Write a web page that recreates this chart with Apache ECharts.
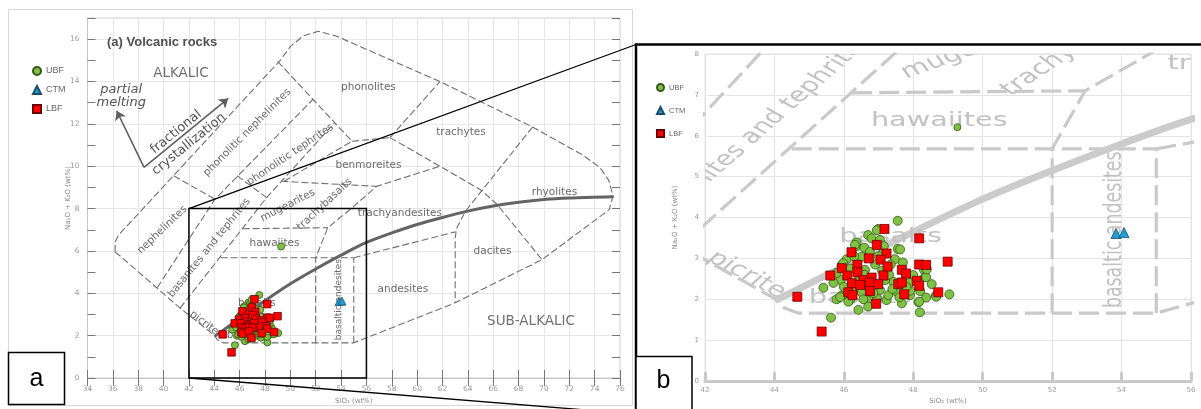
<!DOCTYPE html>
<html><head><meta charset="utf-8">
<script src="https://cdn.jsdelivr.net/npm/echarts@6/dist/echarts.min.js"></script>
<style>html,body{margin:0;padding:0;background:#fff}#c{width:1201px;height:409px}</style>
</head><body><div id="c"></div>
<script>
// ---------------- data (SiO2 wt%, Na2O+K2O wt%) ----------------
const UBF = [[47.55,3.92],[46.99,3.72],[46.70,3.57],[46.80,3.49],[47.55,3.23],[46.35,3.29],[46.59,3.26],[46.08,2.98],[46.51,3.04],[46.75,3.16],[47.47,2.98],[48.31,2.72],[48.34,2.55],[48.53,2.37],[45.41,2.28],[45.94,2.09],[46.08,2.23],[46.51,2.17],[46.66,1.98],[46.95,2.02],[47.23,1.98],[47.28,2.10],[47.52,2.18],[47.67,1.90],[47.91,2.10],[48.15,1.93],[48.37,2.04],[48.65,2.09],[49.04,2.12],[48.19,1.68],[46.42,1.74],[46.70,1.82],[45.63,1.55],[45.79,2.00],[46.18,1.98],[47.04,2.23],[46.87,2.31],[47.42,2.43],[48.00,2.59],[45.91,2.47],[45.79,2.64],[45.94,2.84],[46.27,2.18],[47.19,2.47],[46.37,3.39],[47.04,3.45],[46.61,2.72],[45.98,2.88],[47.14,3.16],[46.32,3.33],[45.89,2.05],[46.13,1.94],[46.56,2.00],[47.62,3.22],[48.37,2.54],[48.66,2.06],[48.17,1.94],[47.91,2.21],[48.39,2.73],[46.95,3.69],[46.90,2.85],[47.30,2.60],[46.40,2.45],[46.70,2.35],[47.10,2.70],[47.70,2.90],[47.90,2.40],[46.20,2.75],[47.40,2.25],[46.60,2.60],[47.80,2.30],[46.30,3.05],[47.00,3.05],[47.35,2.85],[46.00,2.30],[48.20,2.20],[47.60,2.05],[46.85,2.15],[45.70,2.40],[47.15,3.30]];
const UBF_HAWAIITE = [[49.27,6.21]];
const LBF = [[47.17,3.72],[48.17,3.49],[46.95,3.33],[46.22,3.15],[46.72,3.00],[47.23,3.12],[47.06,2.97],[48.99,2.92],[48.17,2.85],[48.37,2.84],[47.26,2.80],[46.39,2.84],[45.94,2.76],[45.61,2.58],[47.67,2.72],[47.79,2.63],[46.39,2.66],[46.10,2.58],[46.80,2.53],[47.14,2.58],[46.56,2.47],[46.23,2.39],[46.47,2.35],[46.75,2.41],[46.99,2.37],[47.57,2.37],[47.67,2.41],[48.10,2.45],[48.17,2.33],[46.13,2.17],[46.25,2.10],[46.75,2.20],[47.74,2.12],[48.72,2.17],[46.93,1.89],[44.66,2.06],[45.36,1.21]];
const CTM = [[53.84,3.61],[54.07,3.63]];

// ---------------- TAS field boundaries (Cox et al. 1979), data units ----------------
const outerBoundary = [[36.17,5.95],[36.2,6.45],[36.45,6.75],[49.2,15.0],[50.0,15.65],[51.0,16.15],[52.2,16.37],[53.6,16.15],[61.8,14.0],[69.1,11.85],[73.0,10.55],[74.4,9.95],[75.1,9.35],[75.45,8.6],[75.15,7.95],[69.85,5.59],[63.0,3.55],[55.0,1.66],[44.7,1.66],[44.25,1.8],[44.0,2.02],[41.3,3.3],[36.6,5.75],[36.17,5.95]];
const bandLeft = [[39.5,4.27],[44.05,8.44],[51.8,13.17]];
const bandRight = [[41.3,3.3],[48.13,8.52],[53.5,12.06]];
const nephTop = [[40.8,9.55],[44.05,8.44]];
const basTop = [[45.8,9.55],[48.13,8.52]];
const phonNephTop = [[49.0,14.95],[54.86,11.18]];
const benmoreiteLeft = [[49.5,9.29],[54.86,11.18]];
const phonoliteBottom = [[54.86,11.18],[57.86,11.35]];
const phonoliteRight = [[57.86,11.35],[61.8,14.0]];
const trachyteBottom = [[57.86,11.35],[61.8,10.0],[65.1,8.85],[66.3,8.2],[69.85,5.59]];
const rhyoliteLeft = [[69.1,11.85],[63.8,7.87],[63.1,7.05],[63.0,6.6],[63.0,3.55]];
const andesiteTop = [[55.0,5.68],[63.0,6.9]];
const hawaiiteBottom = [[44.5,5.68],[55.0,5.68]];
const hawaiiteTop = [[46.24,7.05],[52.95,7.1]];
const mugeariteTop = [[49.3,9.29],[56.8,9.05]];
const trachyandesiteLeft = [[52.0,1.66],[52.0,5.68],[52.95,7.1],[54.74,7.97],[56.8,9.05],[61.8,10.0]];
const basAndesiteRight = [[55.0,1.66],[55.0,5.68]];
const alkalicLine = [[44.1,2.0],[46,2.8],[48,3.65],[50,4.45],[52,5.15],[54,5.8],[56,6.4],[58,6.85],[60,7.25],[62,7.58],[64,7.88],[66,8.12],[68,8.3],[70,8.43],[72,8.5],[75.4,8.56]];
const processArrows = [[[38.46,9.95],[36.3,12.62]],[[38.46,9.95],[45.1,13.2]]];

// field names: text, SiO2, alkalis, angle (deg, in panel a)
const fieldLabels = [
  ['nephelinites',39.9,7.0,44],['basanites and tephrites',43.6,6.15,51],
  ['phonolitic nephelinites',46.6,11.6,45],['phonolitic tephrites',50.0,10.55,34],
  ['phonolites',56.16,13.74,0],['trachytes',63.46,11.61,0],['benmoreites',56.16,10.05,0],
  ['mugearites',49.8,8.15,27],['trachybasalts',52.7,8.2,43],['hawaiites',48.75,6.37,0],
  ['trachyandesites',58.64,7.77,0],['rhyolites',70.83,8.77,0],['dacites',65.94,5.97,0],
  ['andesites',58.88,4.17,0],['basalts',47.35,3.53,0],
  ['picrite',43.2,2.6,-37],['basalts',46.47,2.03,0]
];
const verticalLabels = [['basaltic andesites',53.8,3.7,90]];
const seriesLabels = [['ALKALIC',41.37,14.36,0],['SUB-ALKALIC',68.98,2.65,0]];
const meltingLabels = [['partial\nmelting',36.66,13.33,0]];
const crystalLabels = [['fractional',40.98,11.61,39],['crystallization',42.0,11.04,39]];

const xRangeA=[34,76], yRangeA=[0,17], xRangeB=[42,56], yRangeB=[0,8];
const legendNames=['UBF','CTM','LBF'];

// ---------------- layout ----------------
const GA={left:87.5,top:18,width:532.5,height:360};
const GB={left:705,top:54,width:486,height:327};
const kxA=GA.width/(xRangeA[1]-xRangeA[0]), kyA=GA.height/(yRangeA[1]-yRangeA[0]);
const kxB=GB.width/(xRangeB[1]-xRangeB[0]), kyB=GB.height/(yRangeB[1]-yRangeB[0]);
const SX=kxB/kxA, SY=kyB/kyA;

const chart = echarts.init(document.getElementById('c'),null,{renderer:'canvas'});

const boundaryList=[outerBoundary,bandLeft,bandRight,nephTop,basTop,phonNephTop,benmoreiteLeft,phonoliteBottom,phonoliteRight,trachyteBottom,rhyoliteLeft,andesiteTop,hawaiiteBottom,hawaiiteTop,mugeariteTop,trachyandesiteLeft,basAndesiteRight];

function boundarySeries(g){
  const a = g===0;
  const out = boundaryList.map(b=>({
    type:'line', xAxisIndex:g, yAxisIndex:g, data:b, showSymbol:false, symbol:'none', silent:true, z:1,
    animation:false, clip:true,
    lineStyle:{color:a?'#6f6f6f':'#c9c9c9', width:a?1.1:3.2, type:a?[7,3]:[20,7]}
  }));
  out.push({type:'line', xAxisIndex:g, yAxisIndex:g, data:alkalicLine, showSymbol:false, symbol:'none', silent:true, z:1, smooth:0.3, clip:true,
    lineStyle:{color:a?'#646464':'#cbcbcb', width:a?3:7, type:'solid', cap:'round'}});
  return out;
}

function labelSeries(list,g,font,clip){
  const sx = g===0?1:SX, sy = g===0?1:SY;
  return {type:'custom', xAxisIndex:g, yAxisIndex:g, clip:clip, silent:true, z:2,
    data:list.map((l,i)=>[l[1],l[2],i]),
    renderItem:(params,api)=>{
      const l=list[api.value(2)];
      const p=api.coord([api.value(0),api.value(1)]);
      return {type:'group', x:p[0], y:p[1], scaleX:sx, scaleY:sy, children:[
        {type:'text', rotation:l[3]*Math.PI/180, style:Object.assign({text:l[0], align:'center', verticalAlign:'middle'},font)}]};
    }};
}

const fieldFontA={fontSize:10.5, fontFamily:'DejaVu Sans', fill:'#6a6a6a'};
const fieldFontB={fontSize:10.5, fontFamily:'DejaVu Sans', fill:'#c2c2c2'};
const vertFontA={fontSize:9, fontFamily:'DejaVu Sans', fill:'#6a6a6a'};
const vertFontB={fontSize:9, fontFamily:'DejaVu Sans', fill:'#c2c2c2'};

function pointSeries(g){
  const a=g===0;
  return [
    {type:'scatter', name:'UBF', xAxisIndex:g, yAxisIndex:g, data:UBF, symbol:'circle', symbolSize:a?7:9, z:5,
      itemStyle:{color:'#7dc243', borderColor:'#35561c', borderWidth:0.8, opacity:1}},
    {type:'scatter', name:'UBF', xAxisIndex:g, yAxisIndex:g, data:UBF_HAWAIITE, symbol:'circle', symbolSize:7, z:5,
      itemStyle:{color:'#7dc243', borderColor:'#35561c', borderWidth:0.8, opacity:1}},
    {type:'scatter', name:'LBF', xAxisIndex:g, yAxisIndex:g, data:LBF, symbol:'rect', symbolSize:a?7.5:9, z:6,
      itemStyle:{color:'#ff0000', borderColor:'#6b0000', borderWidth:0.8, opacity:1}},
    {type:'scatter', name:'CTM', xAxisIndex:g, yAxisIndex:g, data:CTM, symbol:'triangle', symbolSize:a?8:10, z:7,
      itemStyle:{color:'#1f9fd6', borderColor:'#1a4d6a', borderWidth:0.8, opacity:1}}
  ];
}

const axisNameStyle={fontSize:7, color:'#8a8a8a', fontFamily:'DejaVu Sans'};
const option={
  animation:false,
  backgroundColor:'#fff',
  title:{text:'(a) Volcanic rocks', left:102, top:31, textStyle:{fontSize:13, fontWeight:'bold', color:'#505050', fontFamily:'Liberation Sans'}},
  legend:[
    {data:legendNames, orient:'vertical', left:27, top:61, itemWidth:8, itemHeight:8, itemGap:9, textStyle:{fontSize:9, color:'#666', lineHeight:10, fontFamily:'Liberation Sans'}, selectedMode:false},
    {data:legendNames, orient:'vertical', left:651, top:78, itemWidth:7, itemHeight:7, itemGap:14, textStyle:{fontSize:7.5, color:'#666', lineHeight:9, fontFamily:'Liberation Sans'}, selectedMode:false}
  ],
  grid:[
    Object.assign({show:true, borderColor:'#cfcfcf', borderWidth:1, containLabel:false, outerBoundsMode:'none'},GA),
    Object.assign({show:true, borderColor:'#e2e2e2', borderWidth:1, containLabel:false, outerBoundsMode:'none'},GB)
  ],
  xAxis:[
    {gridIndex:0, type:'value', min:xRangeA[0], max:xRangeA[1], interval:2,
      axisLine:{show:true, lineStyle:{color:'#c8c8c8'}}, axisTick:{show:true, inside:true, length:8, lineStyle:{color:'#777'}},
      axisLabel:{fontSize:7.5, color:'#9a9a9a', margin:7, fontFamily:'DejaVu Sans'}, splitLine:{show:true, lineStyle:{color:'#e6e6e6'}},
      name:'SiO₂ (wt%)', nameLocation:'middle', nameGap:20, nameMoveOverlap:false, nameTextStyle:axisNameStyle},
    {gridIndex:1, type:'value', min:xRangeB[0], max:xRangeB[1], interval:2,
      axisLine:{show:true, lineStyle:{color:'#c9c9c9', width:3}}, axisTick:{show:true, inside:true, length:9, lineStyle:{color:'#c9c9c9', width:3}},
      axisLabel:{fontSize:7, color:'#9a9a9a', margin:6, fontFamily:'DejaVu Sans'}, splitLine:{show:true, lineStyle:{color:'#e4e4e4'}},
      name:'SiO₂ (wt%)', nameLocation:'middle', nameGap:17, nameMoveOverlap:false, nameTextStyle:axisNameStyle},
    {gridIndex:0, type:'value', position:'top', min:xRangeA[0], max:xRangeA[1], interval:2,
      axisLine:{show:false}, axisTick:{show:true, inside:true, length:8, lineStyle:{color:'#777'}}, axisLabel:{show:false}, splitLine:{show:false}}
  ],
  yAxis:[
    {gridIndex:0, type:'value', min:yRangeA[0], max:yRangeA[1], interval:2,
      axisLine:{show:true, lineStyle:{color:'#c8c8c8'}}, axisTick:{show:false},
      axisLabel:{fontSize:7.5, color:'#9a9a9a', margin:8, fontFamily:'DejaVu Sans', formatter:v=>(v%2===0?String(v):'')},
      splitLine:{show:true, lineStyle:{color:'#e6e6e6'}},
      name:'Na₂O + K₂O (wt%)', nameLocation:'middle', nameGap:16, nameMoveOverlap:false, nameTextStyle:axisNameStyle},
    {gridIndex:1, type:'value', min:yRangeB[0], max:yRangeB[1], interval:1,
      axisLine:{show:true, lineStyle:{color:'#e2e2e2'}}, axisTick:{show:false},
      axisLabel:{fontSize:7, color:'#9a9a9a', margin:6, fontFamily:'DejaVu Sans'}, splitLine:{show:true, lineStyle:{color:'#e4e4e4'}},
      name:'Na₂O + K₂O (wt%)', nameLocation:'middle', nameGap:26, nameMoveOverlap:false, nameTextStyle:axisNameStyle},
    {gridIndex:0, type:'value', position:'left', min:yRangeA[0], max:yRangeA[1], interval:1,
      axisLine:{show:false}, axisTick:{show:true, inside:true, length:8, lineStyle:{color:'#777'}}, axisLabel:{show:false}, splitLine:{show:false}},
    {gridIndex:0, type:'value', position:'right', min:yRangeA[0], max:yRangeA[1], interval:1,
      axisLine:{show:false}, axisTick:{show:true, inside:true, length:8, lineStyle:{color:'#777'}}, axisLabel:{show:false}, splitLine:{show:false}}
  ],
  series:[].concat(
    boundarySeries(0), boundarySeries(1),
    [{type:'lines', coordinateSystem:'cartesian2d', xAxisIndex:0, yAxisIndex:0, silent:true, z:2,
      data:processArrows.map(c=>({coords:c})), symbol:['none','arrow'], symbolSize:9,
      lineStyle:{color:'#5f5f5f', width:1.6, opacity:1}}],
    [labelSeries(fieldLabels,0,fieldFontA,false), labelSeries(fieldLabels,1,fieldFontB,true),
     labelSeries(verticalLabels,0,vertFontA,false), labelSeries(verticalLabels,1,vertFontB,true),
     labelSeries(seriesLabels,0,{fontSize:13.5, fontFamily:'DejaVu Sans', fill:'#707070'},false),
     labelSeries(meltingLabels,0,{fontSize:13, fontFamily:'DejaVu Sans', fill:'#555', fontStyle:'italic', lineHeight:13},false),
     labelSeries(crystalLabels,0,{fontSize:13, fontFamily:'DejaVu Sans', fill:'#555'},false)],
    pointSeries(0), pointSeries(1)
  )
};
chart.setOption(option);

// decorative frames, inset rectangle and zoom connectors
const tl=chart.convertToPixel({xAxisIndex:0,yAxisIndex:0},[xRangeB[0],yRangeB[1]]);
const br=chart.convertToPixel({xAxisIndex:0,yAxisIndex:0},[xRangeB[1],yRangeB[0]]);
chart.setOption({graphic:[
  {type:'rect', silent:true, z:-10, shape:{x:8.5,y:9.5,width:624,height:396}, style:{fill:'none', stroke:'#d8d8d8', lineWidth:1}},
  {type:'rect', silent:true, z:100, shape:{x:tl[0],y:tl[1],width:br[0]-tl[0],height:br[1]-tl[1]}, style:{fill:'none', stroke:'#000', lineWidth:1.5}},
  {type:'line', silent:true, z:100, shape:{x1:tl[0],y1:tl[1],x2:636,y2:44.5}, style:{stroke:'#000', lineWidth:1.3}},
  {type:'line', silent:true, z:100, shape:{x1:tl[0],y1:br[1],x2:636,y2:414}, style:{stroke:'#000', lineWidth:1.3}},
  {type:'rect', silent:true, z:100, shape:{x:636,y:44.5,width:570,height:380}, style:{fill:'none', stroke:'#000', lineWidth:2.5}},
  {type:'rect', silent:true, z:101, shape:{x:8.5,y:352.5,width:56,height:52}, style:{fill:'#fff', stroke:'#000', lineWidth:1.5}},
  {type:'text', silent:true, z:102, x:36.5, y:379, style:{text:'a', fontSize:25, fontFamily:'Liberation Sans', fill:'#000', align:'center', verticalAlign:'middle'}},
  {type:'rect', silent:true, z:101, shape:{x:636,y:356.5,width:56,height:60}, style:{fill:'#fff', stroke:'#000', lineWidth:1.5}},
  {type:'text', silent:true, z:102, x:663.5, y:381, style:{text:'b', fontSize:25, fontFamily:'Liberation Sans', fill:'#000', align:'center', verticalAlign:'middle'}}
]});
</script></body></html>
